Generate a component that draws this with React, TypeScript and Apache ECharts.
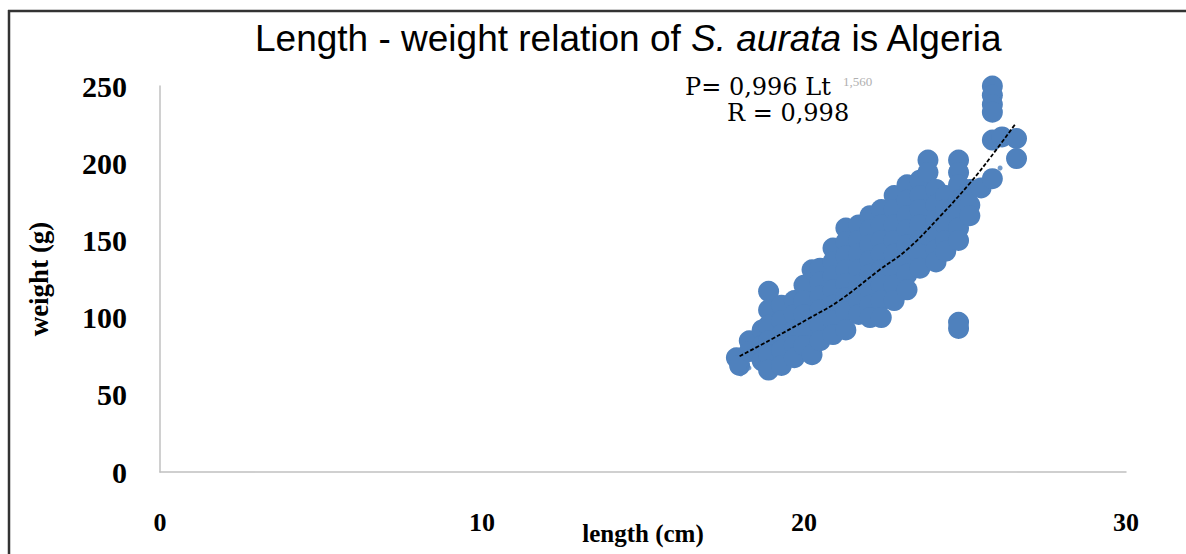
import React, { useEffect, useRef } from "react";
import * as echarts from "echarts";

// Tick values
const xTicks = [0, 10, 20, 30];
const yTicks = [0, 50, 100, 150, 200, 250];

// Length (cm) of each fish
const lengths = [
  17.9, 18.0,
  18.3, 18.3,
  18.7, 18.7, 18.7,
  18.9, 18.9, 18.9, 18.9, 18.9, 18.9,
  19.3, 19.3, 19.3, 19.3, 19.3,
  19.7, 19.7, 19.7, 19.7, 19.7,
  20.0, 20.0, 20.0, 20.0, 20.0,
  20.25, 20.25,
  20.5, 20.5, 20.5, 20.5, 20.5, 20.5,
  20.9, 20.9, 20.9, 20.9, 20.9, 20.9, 20.9,
  21.3, 21.3, 21.3, 21.3, 21.3, 21.3, 21.3, 21.3,
  21.7, 21.7, 21.7, 21.7, 21.7, 21.7, 21.7,
  22.05, 22.05, 22.05, 22.05, 22.05, 22.05, 22.05, 22.05,
  22.4, 22.4, 22.4, 22.4, 22.4, 22.4, 22.4, 22.4,
  22.8, 22.8, 22.8, 22.8, 22.8, 22.8, 22.8, 22.8,
  23.2, 23.2, 23.2, 23.2, 23.2, 23.2, 23.2, 23.2,
  23.6, 23.6, 23.6, 23.6, 23.6, 23.6, 23.6,
  23.85, 23.85,
  24.1, 24.1, 24.1, 24.1, 24.1, 24.1,
  24.4, 24.4, 24.4, 24.4, 24.4,
  24.8, 24.8, 24.8, 24.8, 24.8, 24.8, 24.8, 24.8, 24.8,
  25.15, 25.15, 25.15,
  25.5,
  25.85, 25.85, 25.85, 25.85, 25.85, 25.85,
  26.15,
  26.6, 26.6,
];

// Weight (g) of each fish
const weights = [
  74, 69,
  85, 78,
  92, 82, 72,
  117, 105, 95, 85, 76, 66,
  108, 98, 89, 79, 69,
  111, 102, 92, 82, 74,
  121, 111, 102, 92, 82,
  131, 76,
  132, 123, 114, 105, 95, 85,
  145, 136, 127, 118, 108, 98, 89,
  158, 149, 140, 131, 122, 113, 104, 92,
  160, 150, 141, 131, 121, 111, 102,
  166, 157, 147, 137, 128, 118, 108, 100,
  170, 160, 150, 141, 131, 121, 111, 100,
  179, 170, 160, 150, 141, 131, 121, 111,
  186, 176, 166, 157, 147, 137, 128, 118,
  189, 179, 170, 160, 150, 141, 132,
  202, 194,
  183, 173, 163, 153, 144, 136,
  179, 170, 160, 150, 143,
  202, 194, 186, 176, 166, 158, 150, 97, 93,
  183, 173, 166,
  184,
  250, 244, 238, 233, 215, 190,
  217,
  216, 203,
];

// Few tiny markers
const smallLengths = [18.04, 18.29, 18.51, 26.09];
const smallWeights = [63.5, 67.4, 70.6, 196.9];

// Power trend line
const trendLengths = [18.0, 18.95, 20.2, 21.1, 22.35, 23.2, 24.2, 25.15, 25.8, 26.55];
const trendWeights = [75, 85.5, 100, 111, 131, 144, 165, 187, 204, 225];

export default function App() {
  const ref = useRef<HTMLDivElement>(null);

  useEffect(() => {
    if (!ref.current) return;
    const chart = echarts.init(ref.current, null, { renderer: "svg" });
    const pts = lengths.map((l, i) => [l, weights[i]]);
    const small = smallLengths.map((l, i) => [l, smallWeights[i]]);
    const trend = trendLengths.map((l, i) => [l, trendWeights[i]]);
    const serif = '"Liberation Serif", "Times New Roman", serif';
    const sans = '"Liberation Sans", Arial, sans-serif';

    chart.setOption({
      animation: false,
      backgroundColor: "#ffffff",
      title: {
        text: "{n|Length - weight relation of }{i|S. aurata}{n| is Algeria}",
        left: 250,
        top: 15,
        textStyle: {
          fontWeight: "normal",
          rich: {
            n: { fontFamily: sans, fontSize: 37, fontWeight: "normal", color: "#000" },
            i: { fontFamily: sans, fontSize: 37, fontStyle: "italic", fontWeight: "normal", color: "#000" },
          },
        },
      },
      grid: { left: 160, right: 60, top: 86, bottom: 82, outerBoundsMode: "none", containLabel: false },
      xAxis: {
        type: "value",
        min: xTicks[0],
        max: xTicks[xTicks.length - 1],
        interval: 10,
        name: "length (cm)",
        nameLocation: "middle",
        nameGap: 49,
        nameMoveOverlap: false,
        nameTextStyle: { fontFamily: serif, fontWeight: "bold", fontSize: 25, color: "#000" },
        axisLine: { show: true, lineStyle: { color: "#c0c0c0", width: 1.5 } },
        axisTick: { show: false },
        splitLine: { show: false },
        axisLabel: { margin: 37, fontFamily: serif, fontWeight: "bold", fontSize: 26, color: "#000" },
      },
      yAxis: {
        type: "value",
        min: yTicks[0],
        max: yTicks[yTicks.length - 1],
        interval: 50,
        name: "weight (g)",
        nameLocation: "middle",
        nameGap: 108,
        nameRotate: 90,
        nameMoveOverlap: false,
        nameTextStyle: { fontFamily: serif, fontWeight: "bold", fontSize: 27, color: "#000" },
        axisLine: { show: true, lineStyle: { color: "#c0c0c0", width: 1.5 } },
        axisTick: { show: false },
        splitLine: { show: false },
        axisLabel: { margin: 33, fontFamily: serif, fontWeight: "bold", fontSize: 30, color: "#000" },
      },
      series: [
        {
          type: "scatter",
          data: pts,
          symbol: "circle",
          symbolSize: 21,
          clip: false,
          itemStyle: { color: "#4f81bd", opacity: 1 },
          z: 2,
        },
        {
          type: "scatter",
          data: small,
          symbol: "circle",
          symbolSize: 5,
          itemStyle: { color: "#4f81bd" },
          z: 2,
        },
        {
          type: "line",
          data: trend,
          smooth: 0.4,
          showSymbol: false,
          lineStyle: { color: "#000", width: 1.8, type: [4, 2] },
          z: 3,
        },
      ],
      graphic: [
        { type: "line", shape: { x1: 8, y1: 11, x2: 1186, y2: 11 }, style: { stroke: "#333", lineWidth: 2.5 } },
        { type: "line", shape: { x1: 9, y1: 10, x2: 9, y2: 554 }, style: { stroke: "#333", lineWidth: 2.5 } },
        {
          type: "text",
          x: 685,
          y: 87,
          style: { text: "P= 0,996 Lt", font: '24px "DejaVu Serif", serif', fill: "#000", verticalAlign: "middle" },
        },
        {
          type: "text",
          x: 843,
          y: 81,
          style: { text: "1,560", font: '13px "Liberation Serif", serif', fill: "#b0b0b0", verticalAlign: "middle" },
        },
        {
          type: "text",
          x: 727,
          y: 113,
          style: { text: "R = 0,998", font: '24px "DejaVu Serif", serif', fill: "#000", verticalAlign: "middle" },
        },
      ],
    });
    return () => chart.dispose();
  }, []);

  return (
    <div
      ref={ref}
      style={{ position: "fixed", left: 0, top: 0, width: 1186, height: 554, background: "#fff" }}
    />
  );
}
